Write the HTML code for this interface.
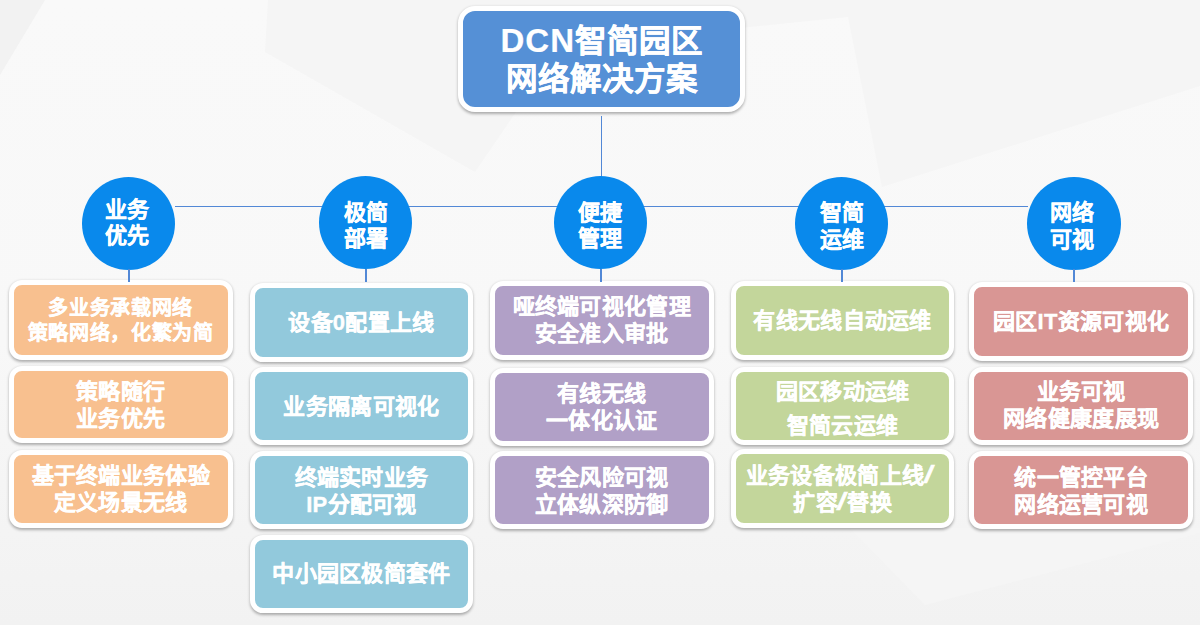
<!DOCTYPE html>
<html lang="zh-CN">
<head>
<meta charset="utf-8">
<style>
html,body{margin:0;padding:0;}
body{width:1200px;height:625px;overflow:hidden;position:relative;background:#f7f7f7;
  font-family:"Liberation Sans",sans-serif;font-weight:700;color:#fff;}
.bg{position:absolute;left:0;top:0;}
.title{position:absolute;box-sizing:border-box;background:#5590d6;border:5px solid #fff;border-radius:17px;
  box-shadow:0 1.5px 3px rgba(0,0,0,0.30);font-size:31.5px;line-height:38px;text-align:center;
  display:flex;align-items:center;justify-content:center;-webkit-text-stroke:0.4px #fff;}
.ln{position:absolute;background:#5288d6;}
.c{position:absolute;border-radius:50%;background:#0989ec;font-size:22px;line-height:26.3px;text-align:center;
  display:flex;align-items:center;justify-content:center;-webkit-text-stroke:0.35px #fff;}
.b{position:absolute;box-sizing:border-box;border:5px solid #fff;border-radius:13px;
  box-shadow:0 1.5px 3px rgba(0,0,0,0.30);font-size:22px;line-height:27px;letter-spacing:0.3px;text-align:center;
  display:flex;align-items:center;justify-content:center;-webkit-text-stroke:0.35px #fff;}
.sl{display:inline-block;font-weight:400;-webkit-text-stroke:0.5px #fff;transform:scale(1.8,1.05);margin:0 1.5px;}
.o{background:#f8c08f;}
.u{background:#92c9dc;}
.p{background:#b1a0c7;}
.g{background:#c3d69b;}
.r{background:#d99694;}
</style>
</head>
<body>
<svg class="bg" width="1200" height="625">
<defs>
<linearGradient id="gb" x1="0" y1="0" x2="0" y2="1">
<stop offset="0" stop-color="#f9f9f9"/><stop offset="0.55" stop-color="#f8f8f8"/><stop offset="1" stop-color="#f2f2f2"/>
</linearGradient>
</defs>
<rect width="1200" height="625" fill="url(#gb)"/>
<polygon points="0,0 45,0 0,75" fill="#f2f2f2"/>
<polygon points="268,0 265,52 475,172 516,112 600,80 740,28 848,17 882,187 1200,86 1200,0" fill="#f5f5f5"/>
<polygon points="850,528 925,605 1200,533 1200,528" fill="#f5f5f5"/>
</svg>
<div class="ln" style="left:600.6px;top:116px;width:1.8px;height:61px;"></div>
<div class="ln" style="left:175px;top:205.5px;width:853px;height:1.8px;"></div>
<div class="ln" style="left:127.7px;top:268.5px;width:2px;height:13.5px;z-index:2;"></div>
<div class="ln" style="left:364.7px;top:268.5px;width:2px;height:13.5px;z-index:2;"></div>
<div class="ln" style="left:599.5px;top:268.5px;width:2px;height:13.5px;z-index:2;"></div>
<div class="ln" style="left:840.6px;top:268.5px;width:2px;height:13.5px;z-index:2;"></div>
<div class="ln" style="left:1072.9px;top:268.5px;width:2px;height:13.5px;z-index:2;"></div>
<div class="title" style="left:458.2px;top:6.1px;width:287.2px;height:105.9px;"><div style="position:relative;top:0.8px;"><span style="font-size:33px;letter-spacing:1px;-webkit-text-stroke:0.2px #fff;">DCN</span>智简园区<br>网络解决方案</div></div>
<div class="c" style="left:82.0px;top:176.7px;width:93.4px;height:93.4px;"><div style="position:relative;left:-1.5px;top:0px;">业务<br>优先</div></div>
<div class="c" style="left:319.0px;top:175.9px;width:93.4px;height:93.4px;"><div style="position:relative;left:0px;top:3.5px;">极简<br>部署</div></div>
<div class="c" style="left:553.8px;top:175.9px;width:93.4px;height:93.4px;"><div style="position:relative;left:0px;top:3.5px;">便捷<br>管理</div></div>
<div class="c" style="left:794.9px;top:176.6px;width:93.4px;height:93.4px;"><div style="position:relative;left:0px;top:3.5px;">智简<br>运维</div></div>
<div class="c" style="left:1027.2px;top:176.6px;width:93.4px;height:93.4px;"><div style="position:relative;left:-2px;top:3.5px;">网络<br>可视</div></div>
<div class="b o" style="left:9.0px;top:280.3px;width:223.5px;height:79.4px;font-size:20px;line-height:25px;letter-spacing:0.65px;"><div style="position:relative;top:1.5px;">多业务承载网络<br>策略网络，化繁为简</div></div>
<div class="b o" style="left:9.0px;top:365.8px;width:223.5px;height:77.5px;"><div style="position:relative;top:0.5px;">策略随行<br>业务优先</div></div>
<div class="b o" style="left:9.0px;top:449.5px;width:223.5px;height:78.0px;"><div style="position:relative;top:0px;">基于终端业务体验<br>定义场景无线</div></div>
<div class="b u" style="left:249.7px;top:283.2px;width:223.5px;height:79.2px;"><div style="position:relative;top:0px;">设备0配置上线</div></div>
<div class="b u" style="left:249.7px;top:366.8px;width:223.5px;height:78.7px;"><div style="position:relative;top:0px;">业务隔离可视化</div></div>
<div class="b u" style="left:249.7px;top:450.8px;width:223.5px;height:78.2px;"><div style="position:relative;top:1px;">终端实时业务<br>IP分配可视</div></div>
<div class="b u" style="left:249.7px;top:535.2px;width:223.5px;height:77.5px;"><div style="position:relative;top:0px;">中小园区极简套件</div></div>
<div class="b p" style="left:490.0px;top:280.9px;width:223.5px;height:78.9px;"><div style="position:relative;top:0px;">哑终端可视化管理<br>安全准入审批</div></div>
<div class="b p" style="left:490.0px;top:367.7px;width:223.5px;height:78.3px;"><div style="position:relative;top:0px;">有线无线<br>一体化认证</div></div>
<div class="b p" style="left:490.0px;top:451.3px;width:223.5px;height:77.5px;"><div style="position:relative;top:1px;">安全风险可视<br>立体纵深防御</div></div>
<div class="b g" style="left:730.8px;top:281.0px;width:223.5px;height:79.0px;"><div style="position:relative;top:0px;">有线无线自动运维</div></div>
<div class="b g" style="left:730.8px;top:366.8px;width:223.5px;height:77.8px;line-height:33.6px;"><div style="position:relative;top:3.3px;">园区移动运维<br>智简云运维</div></div>
<div class="b g" style="left:730.8px;top:449.0px;width:223.5px;height:78.7px;"><div style="position:relative;top:1px;">业务设备极简上线<span class="sl" style="margin-right:7px">/</span><br>扩容<span class="sl">/</span>替换</div></div>
<div class="b r" style="left:969.4px;top:282.3px;width:223.5px;height:78.9px;"><div style="position:relative;top:0px;">园区IT资源可视化</div></div>
<div class="b r" style="left:969.4px;top:366.5px;width:223.5px;height:78.1px;"><div style="position:relative;top:-0.5px;">业务可视<br>网络健康度展现</div></div>
<div class="b r" style="left:969.4px;top:450.8px;width:223.5px;height:78.0px;"><div style="position:relative;top:1px;">统一管控平台<br>网络运营可视</div></div>
</body>
</html>
